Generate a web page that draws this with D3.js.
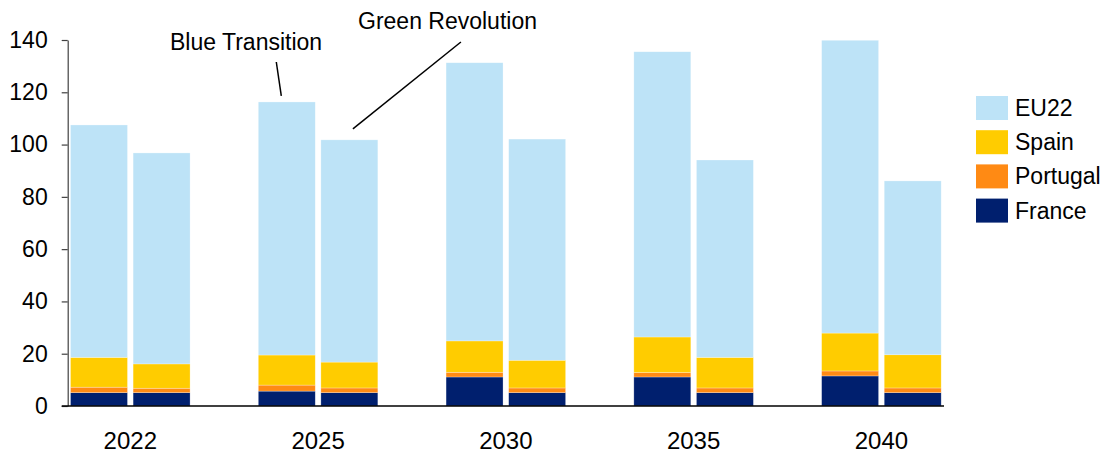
<!DOCTYPE html>
<html>
<head>
<meta charset="utf-8">
<script src="https://cdn.jsdelivr.net/npm/d3@7"></script>
<style>
  html, body { margin: 0; padding: 0; background: #fff; }
  svg { display: block; font-family: "Liberation Sans", Arial, sans-serif; }
</style>
</head>
<body>
<svg id="chart" width="1106" height="454"></svg>
<script>
// Categories
const years = ["2022", "2025", "2030", "2035", "2040"];
const scenarios = ["Blue Transition", "Green Revolution"];
// Stack order, bottom to top
const regions = ["France", "Portugal", "Spain", "EU22"];
const legendOrder = ["EU22", "Spain", "Portugal", "France"];
const yTicks = [0, 20, 40, 60, 80, 100, 120, 140];

// Blue Transition scenario, per year
const franceBlue   = [5.1, 5.7, 11.1, 11.1, 11.5];
const portugalBlue = [2.1, 2.3, 1.8, 1.7, 1.9];
const spainBlue    = [11.4, 11.5, 12.0, 13.6, 14.5];
const eu22Blue     = [88.9, 96.8, 106.4, 109.1, 112.0];

// Green Revolution scenario, per year
const franceGreen   = [5.1, 5.1, 5.1, 5.1, 5.1];
const portugalGreen = [1.7, 1.8, 1.8, 1.8, 1.8];
const spainGreen    = [9.3, 9.9, 10.6, 11.7, 12.7];
const eu22Green     = [80.7, 85.0, 84.6, 75.5, 66.5];

const colors = {
  EU22: "#bde3f7",
  Spain: "#ffcc00",
  Portugal: "#ff8a14",
  France: "#001f6e"
};

// One row per (year, scenario) bar
const rows = [];
years.forEach((yr, i) => {
  rows.push({ year: yr, scenario: scenarios[0],
    France: franceBlue[i], Portugal: portugalBlue[i], Spain: spainBlue[i], EU22: eu22Blue[i] });
  rows.push({ year: yr, scenario: scenarios[1],
    France: franceGreen[i], Portugal: portugalGreen[i], Spain: spainGreen[i], EU22: eu22Green[i] });
});

const svg = d3.select("#chart");
const plotLeft = 67.7, plotRight = 944, plotTop = 40, plotBottom = 406;

const x0 = d3.scaleBand().domain(years).range([plotLeft, plotRight])
  .paddingInner(1 / 3).paddingOuter(0);
const x1 = d3.scaleBand().domain(scenarios).range([0, x0.bandwidth()])
  .paddingInner(0.09).paddingOuter(0.045);
const y = d3.scaleLinear().domain([0, 140]).range([plotBottom, plotTop]);

const stacked = d3.stack().keys(regions)(rows);

// Bars
const layer = svg.append("g").selectAll("g")
  .data(stacked).join("g")
  .attr("fill", d => colors[d.key]);

layer.selectAll("rect")
  .data(d => d)
  .join("rect")
  .attr("x", d => x0(d.data.year) + x1(d.data.scenario))
  .attr("width", x1.bandwidth())
  .attr("y", d => y(d[1]))
  .attr("height", d => y(d[0]) - y(d[1]))
  .attr("stroke", "rgba(255,255,255,0.45)")
  .attr("stroke-width", 0.6);

// Y axis
const yAxis = svg.append("g")
  .attr("transform", `translate(${plotLeft},0)`)
  .call(d3.axisLeft(y).tickValues(yTicks).tickSize(6).tickSizeOuter(0).tickPadding(14));
yAxis.select(".domain").attr("stroke", "#404040").attr("stroke-width", 1.2);
yAxis.selectAll(".tick line").attr("stroke", "#404040").attr("stroke-width", 1.2);
yAxis.selectAll(".tick text")
  .attr("font-size", 23)
  .attr("fill", "#000")
  .attr("font-family", "'Liberation Sans', Arial, sans-serif");

// Baseline
svg.append("line")
  .attr("x1", plotLeft - 6).attr("x2", plotRight)
  .attr("y1", y(0)).attr("y2", y(0))
  .attr("stroke", "#000").attr("stroke-width", 1.5);

// Year labels
svg.append("g").selectAll("text")
  .data(years).join("text")
  .attr("x", d => x0(d) + x0.bandwidth() / 2)
  .attr("y", 449)
  .attr("text-anchor", "middle")
  .attr("font-size", 24)
  .attr("fill", "#000")
  .text(d => d);

// Scenario callouts on the 2025 pair
const i25 = years.indexOf("2025");
const blueTop = y(franceBlue[i25] + portugalBlue[i25] + spainBlue[i25] + eu22Blue[i25]);
const greenTop = y(franceGreen[i25] + portugalGreen[i25] + spainGreen[i25] + eu22Green[i25]);
const blueX = x0("2025") + x1(scenarios[0]);
const greenX = x0("2025") + x1(scenarios[1]);

svg.append("line")
  .attr("x1", blueX + 18).attr("y1", 62)
  .attr("x2", blueX + 23).attr("y2", blueTop - 6)
  .attr("stroke", "#000").attr("stroke-width", 1.5);
svg.append("text")
  .attr("x", 170).attr("y", 50)
  .attr("font-size", 23).attr("fill", "#000")
  .text(scenarios[0]);

svg.append("line")
  .attr("x1", greenX + 140).attr("y1", 42)
  .attr("x2", greenX + 32).attr("y2", greenTop - 11)
  .attr("stroke", "#000").attr("stroke-width", 1.5);
svg.append("text")
  .attr("x", 358).attr("y", 29)
  .attr("font-size", 23).attr("fill", "#000")
  .text(scenarios[1]);

// Legend
const legend = svg.append("g").selectAll("g")
  .data(legendOrder).join("g")
  .attr("transform", (d, i) => `translate(976,${96 + i * 34.2})`);
legend.append("rect")
  .attr("width", 32).attr("height", 24)
  .attr("fill", d => colors[d]);
legend.append("text")
  .attr("x", 39).attr("y", 12)
  .attr("dy", "0.35em")
  .attr("font-size", 23).attr("fill", "#000")
  .text(d => d);
</script>
</body>
</html>
